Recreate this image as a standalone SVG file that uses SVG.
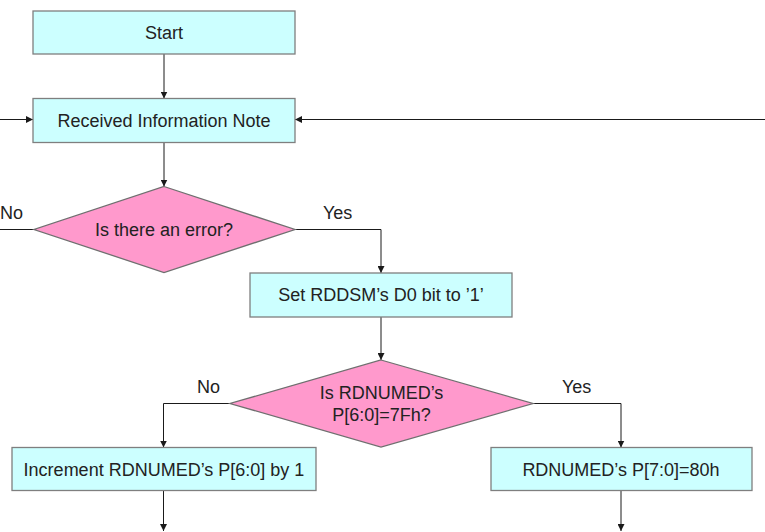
<svg xmlns="http://www.w3.org/2000/svg" width="765" height="532" viewBox="0 0 765 532">
<defs>
<marker id="ah" viewBox="0 0 10 10" refX="10" refY="5" markerWidth="7" markerHeight="7" markerUnits="userSpaceOnUse" orient="auto">
<path d="M0,0 L10,5 L0,10 z" fill="#1a1a1a"/>
</marker>
<style>
.box{fill:#ccffff;stroke:#7f7f7f;stroke-width:1.3}
.dia{fill:#ff99cc;stroke:#6f6f6f;stroke-width:1.3}
.t{font-family:"Liberation Sans",Arial,sans-serif;font-size:18px;fill:#222;text-anchor:middle}
.l{font-family:"Liberation Sans",Arial,sans-serif;font-size:18px;fill:#222}
.c{fill:none;stroke:#1a1a1a;stroke-width:1}
.ca{fill:none;stroke:#1a1a1a;stroke-width:1;marker-end:url(#ah)}
</style>
</defs>
<rect width="765" height="532" fill="#ffffff"/>
<g id="connectors">
<line class="ca" x1="164" y1="54" x2="164" y2="98.5"/>
<line class="ca" x1="0" y1="119.5" x2="33" y2="119.5"/>
<line class="ca" x1="765" y1="119.5" x2="295" y2="119.5"/>
<line class="ca" x1="164" y1="143" x2="164" y2="186.5"/>
<line class="c" x1="34" y1="229.5" x2="0" y2="229.5"/>
<polyline class="ca" points="295,229.5 381,229.5 381,273"/>
<line class="ca" x1="381" y1="317" x2="381" y2="360"/>
<polyline class="ca" points="230,403.5 163.5,403.5 163.5,447.5"/>
<polyline class="ca" points="533,403.5 621,403.5 621,447.5"/>
<line class="ca" x1="163.5" y1="491" x2="163.5" y2="531"/>
<line class="ca" x1="621" y1="491" x2="621" y2="531"/>
</g>
<g id="start">
<rect class="box" x="33" y="11" width="262" height="43"/>
<text class="t" x="164" y="39">Start</text>
</g>
<g id="received">
<rect class="box" x="33" y="98.5" width="262" height="44"/>
<text class="t" x="164" y="126.5">Received Information Note</text>
</g>
<g id="error">
<polygon class="dia" points="164,186.5 295,229.5 164,272.5 34,229.5"/>
<text class="t" x="164" y="235.5">Is there an error?</text>
</g>
<g id="label-no1"><text class="l" x="0" y="218.5">No</text></g>
<g id="label-yes1"><text class="l" x="323" y="218.5">Yes</text></g>
<g id="setd0">
<rect class="box" x="250" y="273" width="262" height="44"/>
<text class="t" x="381" y="301">Set RDDSM’s D0 bit to ’1’</text>
</g>
<g id="is7fh">
<polygon class="dia" points="381,360 533,403.5 381,447 230,403.5"/>
<text class="t" x="381.5" y="398.5">Is RDNUMED’s</text>
<text class="t" x="381.5" y="420.5">P[6:0]=7Fh?</text>
</g>
<g id="label-no2"><text class="l" x="197" y="393">No</text></g>
<g id="label-yes2"><text class="l" x="562" y="393">Yes</text></g>
<g id="increment">
<rect class="box" x="12" y="447.5" width="304" height="43"/>
<text class="t" x="164" y="475.5">Increment RDNUMED’s P[6:0] by 1</text>
</g>
<g id="set80">
<rect class="box" x="491" y="447.5" width="261" height="43"/>
<text class="t" x="621" y="475.5">RDNUMED’s P[7:0]=80h</text>
</g>
</svg>
